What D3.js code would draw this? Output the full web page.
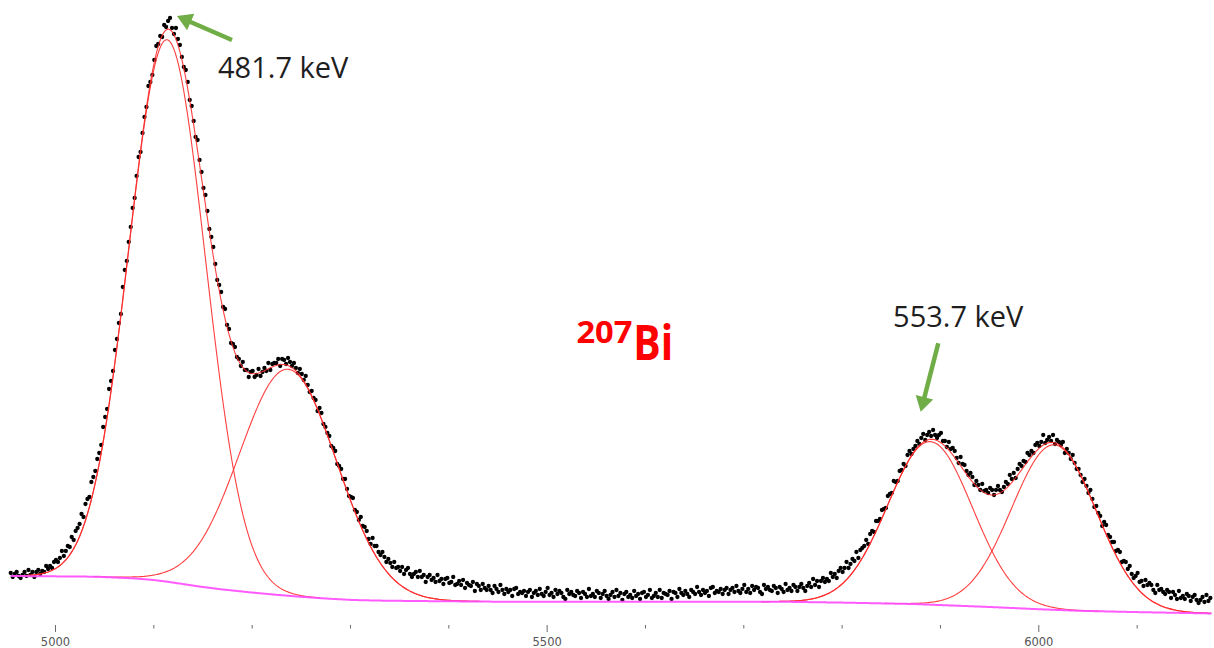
<!DOCTYPE html>
<html><head><meta charset="utf-8">
<script src="https://cdn.jsdelivr.net/npm/d3@7"></script>
<style>html,body{margin:0;padding:0;background:#fff;} svg{display:block;}</style>
</head><body>
<svg id="chart" width="1214" height="648"></svg>
<script>
// ---- data ----
const channelStart = 4955;
const channelStep = 2;
const counts = [
47,43,46,48,44, 42,45,48,44,50, 45,48,43,48,50, 46,49,48,54,51, 54,52,58,60,58,
62,69,64,69,74, 73,83,80,89,92, 96,106,103,116,121, 123,138,143,149,161, 167,175,193,203,211,
231,239,249,270,281, 297,306,333,350,359, 378,393,412,422,444, 463,468,487,503,513, 534,538,545,560,574,
576,584,583,595,593, 599,602,592,586,592, 581,575,563,553,550, 538,520,514,499,483, 480,460,448,432,425,
409,391,383,373,356, 340,335,328,313,311, 295,291,277,276,273, 263,261,254,258,250, 250,243,248,249,243,
245,251,244,248,252, 249,257,250,256,257, 257,261,254,261,260, 256,262,258,254,257, 252,247,251,246,240,
244,235,228,229,222, 220,209,212,207,196, 193,187,184,174,172, 169,156,154,151,141, 141,131,124,123,122,
110,108,100,103,94, 93,89,81,76,82, 74,74,68,65,68, 63,58,61,57,53, 58,52,53,49,53,
46,50,52,46,43, 46,48,43,49,43, 45,38,43,45,40, 42,38,45,39,41, 36,41,42,37,38,
43,35,36,39,35,
40,32,37,35,34, 38,29,36,34,30, 36,32,30,34,30, 27,34,31,28,35, 30,26,31,28,30,
24,31,32,26,28, 27,29,24,28,30, 23,27,29,25,31, 26,24,28,32,25, 27,23,30,26,29,
27,23,21,30,26, 28,25,24,29,27, 22,28,26,23,31, 24,26,23,29,27, 22,26,29,24,21,
25,28,23,30,24, 27,20,26,28,23, 25,22,29,24,26, 21,27,28,23,25, 30,22,24,27,23,
30,22,27,26,25, 29,21,28,27,23, 31,27,25,29,26, 23,30,28,26,33, 28,25,30,27,29,
24,32,33,27,29, 28,31,26,30,32, 26,30,32,28,34, 29,27,31,35,28, 31,27,34,30,33,
32,28,26,35,31, 33,30,29,34,32, 27,33,31,28,36,
30,32,29,35,33, 29,33,36,32,29, 34,37,33,41,35, 39,33,39,42,38, 41,39,47,43,46,
42,49,52,48,52, 58,52,56,61,59, 68,62,70,72,74, 80,76,86,89,88, 99,99,101,110,111,
112,124,126,127,139, 138,139,149,150,156, 154,165,169,166,171, 174,179,176,182,186, 180,185,188,184,190,
185,182,185,187,179, 179,173,178,171,172, 169,162,157,163,156, 155,149,145,147,143, 135,139,135,130,136,
129,130,127,132,130, 125,130,134,130,128, 133,138,136,145,141, 147,142,151,156,154, 159,158,167,165,169,
167,175,177,174,178, 185,177,180,183,179, 185,176,180,178,175, 178,167,171,167,161, 165,157,151,151,145,
138,141,134,127,130, 121,113,114,107,104, 94,98,95,85,83, 78,78,69,70,68, 58,59,58,51,54,
46,42,44,47,38, 39,34,40,35,37, 35,30,27,35,30, 31,28,26,30,28, 22,28,25,21,29,
22,24,21,26,24, 19,23,25,20,17, 20,23,18,25,19, 22
];
const bgChannels = [4954,5042,5079,5100,5114,5130,5148,5170,5198,5225,5249,5275,5303,5330,5364,5453,5737,5800,5873,5951,6000,6042,6100,6178];
const bgCounts   = [44,43.3,41.7,40,38.3,36,33.3,30.6,27.7,25.2,23.3,21.5,20,19.4,19,18.3,18.3,17.4,16,13,10.8,9.2,7.9,6.5];
const peakCentroids  = [5114, 5237, 5890, 6016];
const peakSigmas     = [39, 49.5, 43, 43];
const peakAmplitudes = [542, 226.5, 163, 165];
const majorTicks = [5000, 5500, 6000];
const minorTicks = [5100, 5200, 5300, 5400, 5600, 5700, 5800, 5900, 6100];
const peakLabels = ["481.7 keV", "553.7 keV"];
const labelAnchors = [[5165.8, 542.5], [5852.3, 293.5]];
const arrowTails = [[5180, 580], [5898.3, 276.7]];
const arrowTips  = [[5124, 604], [5880.4, 208.3]];
const isotopeMass = "207", isotopeSymbol = "Bi";
const isotopeAnchor = [5530.3, 276.7], symbolAnchor = [5588, 260];

// ---- scales ----
const x = d3.scaleLinear().domain([5000, 6000]).range([55, 1038.3]);
const y = d3.scaleLinear().domain([0, 600]).range([620, 20]);
const svg = d3.select("#chart");

const points = counts.map((c, i) => ({ch: channelStart + i * channelStep, c}));
const chMin = channelStart, chMax = channelStart + (counts.length - 1) * channelStep;
const bg = d3.scaleLinear().domain(bgChannels).range(bgCounts).clamp(true);
const gauss = (k, ch) => peakAmplitudes[k] * Math.exp(-((ch - peakCentroids[k]) ** 2) / (2 * peakSigmas[k] ** 2));

// ---- data points ----
svg.append("g").selectAll("circle").data(points).join("circle")
  .attr("cx", d => x(d.ch)).attr("cy", d => y(d.c)).attr("r", 2.15).attr("fill", "#000");

// ---- fit components ----
const line = d3.line().x(d => x(d[0])).y(d => y(d[1]));
const fitG = svg.append("g").attr("fill", "none").attr("stroke", "#ff2a2a").attr("stroke-width", 1.1).attr("stroke-opacity", 0.9);
const ranges = [];
peakCentroids.forEach((c, k) => {
  const lo = Math.max(chMin, Math.round(c - 4 * peakSigmas[k]));
  const hi = Math.min(chMax + 1, Math.round(c + 4 * peakSigmas[k]));
  ranges.push([lo, hi]);
  const pts = d3.range(lo, hi + 0.5, 1).map(ch => [ch, bg(ch) + gauss(k, ch)]);
  fitG.append("path").attr("d", line(pts));
});
const groups = [[ranges[0][0], Math.max(ranges[0][1], ranges[1][1])], [ranges[2][0], Math.max(ranges[2][1], ranges[3][1])]];
groups.forEach(([lo, hi]) => {
  const pts = d3.range(lo, hi + 0.5, 1).map(ch => [ch, bg(ch) + d3.sum(peakCentroids, (_, k) => gauss(k, ch))]);
  fitG.append("path").attr("d", line(pts));
});

// ---- background ----
const bgPts = d3.range(chMin, chMax + 2, 1).map(ch => [ch, bg(ch)]);
svg.append("path").attr("d", line(bgPts)).attr("fill", "none")
  .attr("stroke", "#ff4dff").attr("stroke-width", 2).attr("stroke-opacity", 0.92);

// ---- axis ----
const axG = svg.append("g").attr("transform", "translate(0,625)");
axG.append("g").call(d3.axisBottom(x).tickValues(minorTicks).tickSize(3.5).tickFormat(""))
  .call(g => g.select(".domain").remove());
axG.append("g").call(d3.axisBottom(x).tickValues(majorTicks).tickSize(7).tickPadding(6).tickFormat(d3.format("d")))
  .call(g => g.select(".domain").remove());
axG.selectAll("line").attr("stroke", "#6b6b6b");
axG.selectAll("text").attr("fill", "#555").style("font-family", "DejaVu Sans, sans-serif").style("font-size", "11.5px");

// ---- annotations ----
const green = "#70ad47";
arrowTails.forEach((t, i) => {
  const tx = x(t[0]), ty = y(t[1]);
  const px = x(arrowTips[i][0]), py = y(arrowTips[i][1]);
  const len = Math.hypot(px - tx, py - ty);
  const ux = (px - tx) / len, uy = (py - ty) / len;
  const hl = 15, hw = 9;
  const bx = px - ux * hl, by = py - uy * hl;
  svg.append("line").attr("x1", tx).attr("y1", ty).attr("x2", bx + ux * 2).attr("y2", by + uy * 2)
    .attr("stroke", green).attr("stroke-width", 4.5);
  svg.append("polygon").attr("fill", green)
    .attr("points", [[px, py], [bx - uy * hw, by + ux * hw], [bx + uy * hw, by - ux * hw]].map(p => p.join(",")).join(" "));
});
peakLabels.forEach((t, i) => {
  svg.append("text").attr("x", x(labelAnchors[i][0])).attr("y", y(labelAnchors[i][1]))
    .attr("fill", "#1e1e1e").style("font-family", "Open Sans, sans-serif").style("font-size", "29px").text(t);
});
svg.append("text").attr("x", x(isotopeAnchor[0])).attr("y", y(isotopeAnchor[1]))
  .attr("fill", "#ff0000").style("font-family", "Open Sans, sans-serif").style("font-weight", "bold").style("font-size", "30px")
  .attr("textLength", 56).attr("lengthAdjust", "spacingAndGlyphs").text(isotopeMass);
svg.append("text").attr("x", x(symbolAnchor[0])).attr("y", y(symbolAnchor[1]))
  .attr("fill", "#ff0000").style("font-family", "Open Sans, sans-serif").style("font-weight", "bold").style("font-size", "49px")
  .attr("textLength", 40).attr("lengthAdjust", "spacingAndGlyphs").text(isotopeSymbol);
</script>
</body></html>
